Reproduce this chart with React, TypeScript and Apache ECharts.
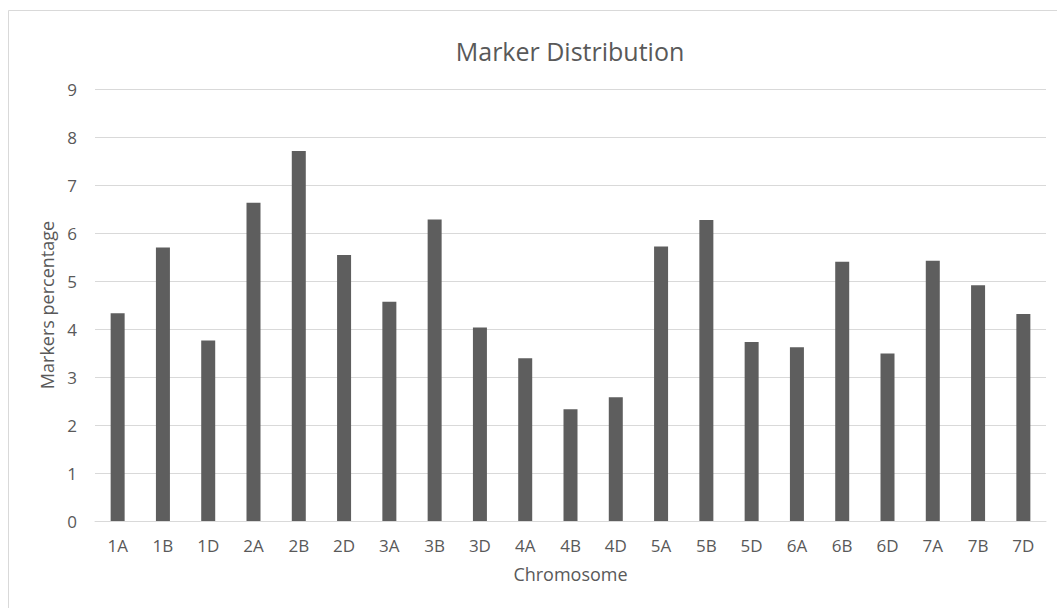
import React, { useEffect, useRef } from "react";
import * as echarts from "echarts";

const categories = ["1A","1B","1D","2A","2B","2D","3A","3B","3D","4A","4B","4D","5A","5B","5D","6A","6B","6D","7A","7B","7D"];
const values = [4.33,5.70,3.76,6.63,7.71,5.54,4.57,6.28,4.03,3.39,2.33,2.58,5.72,6.27,3.73,3.62,5.40,3.49,5.42,4.91,4.31];
const yTicks = [0, 9, 1];

const FONT = "'Open Sans', 'Noto Sans', sans-serif";
const TEXT = "#595959";

export default function App() {
  const ref = useRef<HTMLDivElement>(null);
  useEffect(() => {
    document.body.style.margin = "0";
    const chart = echarts.init(ref.current!, null, { renderer: "svg" });
    chart.setOption({
      animation: false,
      backgroundColor: "#ffffff",
      textStyle: { fontFamily: FONT },
      title: {
        text: "Marker Distribution",
        left: 565,
        textAlign: "center",
        top: 33,
        textStyle: { fontFamily: FONT, fontSize: 25, fontWeight: "normal", color: TEXT },
      },
      graphic: [
        {
          type: "rect",
          shape: { x: 8.5, y: 10.5, width: 1100, height: 700 },
          style: { fill: "none", stroke: "#d9d9d9", lineWidth: 1 },
          silent: true,
          z: -10,
        },
      ],
      grid: { left: 95, right: 11, top: 89, bottom: 87 },
      xAxis: {
        type: "category",
        data: categories,
        name: "Chromosome",
        nameLocation: "middle",
        nameGap: 44,
        nameTextStyle: { fontFamily: FONT, fontSize: 18, color: TEXT },
        axisLine: { show: true, lineStyle: { color: "#d9d9d9" } },
        axisTick: { show: false },
        axisLabel: { fontFamily: FONT, fontSize: 17, color: TEXT, margin: 16 },
      },
      yAxis: {
        type: "value",
        min: yTicks[0],
        max: yTicks[1],
        interval: yTicks[2],
        name: "Markers percentage",
        nameLocation: "middle",
        nameGap: 34,
        nameTextStyle: { fontFamily: FONT, fontSize: 18, color: TEXT },
        axisLine: { show: false },
        axisTick: { show: false },
        axisLabel: { fontFamily: FONT, fontSize: 17, color: TEXT, margin: 18 },
        splitLine: { lineStyle: { color: "#d9d9d9" } },
      },
      series: [
        {
          type: "bar",
          data: values,
          barWidth: 14,
          itemStyle: { color: "#5e5e5e" },
        },
      ],
    });
    return () => chart.dispose();
  }, []);
  return <div ref={ref} style={{ position: "absolute", left: 0, top: 0, width: 1057, height: 608 }} />;
}
